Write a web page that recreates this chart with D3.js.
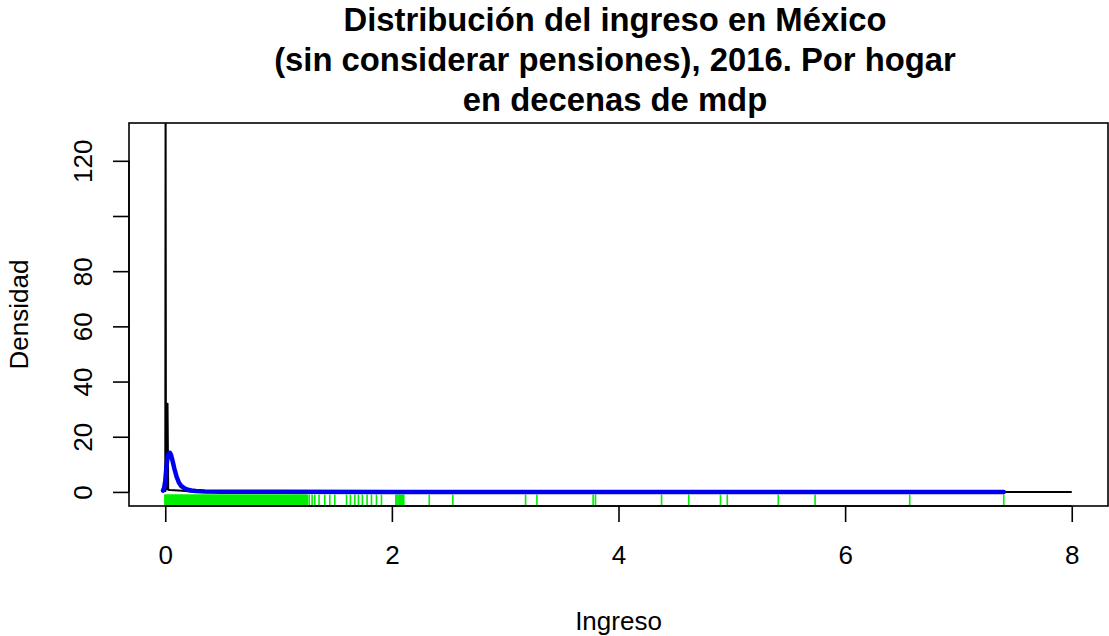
<!DOCTYPE html>
<html>
<head>
<meta charset="utf-8">
<script src="https://cdn.jsdelivr.net/npm/d3@7"></script>
<style>
  html, body { margin: 0; padding: 0; background: #ffffff; }
  svg { display: block; font-family: "Liberation Sans", Arial, sans-serif; }
</style>
</head>
<body>
<svg id="chart" width="1109" height="636"></svg>
<script>
// ---- data ----
const titleLines = ["Distribución del ingreso en México", "(sin considerar pensiones), 2016. Por hogar", "en decenas de mdp"];
const xLabel = "Ingreso";
const yLabel = "Densidad";
const xTicks = [0, 2, 4, 6, 8];
const xTickLabels = ["0", "2", "4", "6", "8"];
const yTicks = [0, 20, 40, 60, 80, 100, 120];
const yTickLabels = ["0", "20", "40", "60", "80", "", "120"];

// black density curve (spikes near zero)
const blackX = [0, 0.003, 0.006, 0.012, 0.02, 0.026, 0.04, 0.08, 0.15, 0.25, 0.4, 8];
const blackY = [0, 150, 1, 1, 32, 0.8, 0.7, 0.6, 0.4, 0.1, 0, 0];

// blue density curve
const blueX = [-0.02, -0.01, 0.0, 0.01, 0.02, 0.03, 0.04, 0.05, 0.06, 0.07, 0.08, 0.10, 0.12, 0.14, 0.17, 0.20, 0.23, 0.27, 0.35, 0.5, 1.0, 2.0, 4.0, 6.0, 7.4];
const blueY = [0.5, 1.5, 4, 9, 12.5, 14, 14.2, 13.5, 12, 10.3, 8.5, 5.5, 3.4, 2.2, 1.3, 0.8, 0.5, 0.3, 0.15, 0.08, 0.03, 0.01, 0.005, 0.002, 0.001];

// rug (observed incomes)
const rugValues = [
  0.00,0.01,0.02,0.03,0.04,0.05,0.06,0.07,0.08,0.09,0.10,0.11,0.12,0.13,0.14,0.15,0.16,0.17,0.18,0.19,
  0.20,0.21,0.22,0.23,0.24,0.25,0.26,0.27,0.28,0.29,0.30,0.31,0.32,0.33,0.34,0.35,0.36,0.37,0.38,0.39,
  0.40,0.41,0.42,0.43,0.44,0.45,0.46,0.47,0.48,0.49,0.50,0.51,0.52,0.53,0.54,0.55,0.56,0.57,0.58,0.59,
  0.60,0.61,0.62,0.63,0.64,0.65,0.66,0.67,0.68,0.69,0.70,0.71,0.72,0.73,0.74,0.75,0.76,0.77,0.78,0.79,
  0.80,0.81,0.82,0.83,0.84,0.85,0.86,0.87,0.88,0.89,0.90,0.91,0.92,0.93,0.94,0.95,0.96,0.97,0.98,0.99,
  1.00,1.01,1.02,1.03,1.04,1.05,1.06,1.07,1.08,1.09,1.10,1.11,1.12,1.13,1.14,1.15,1.16,1.17,1.18,1.19,
  1.20,1.21,1.22,1.23,1.24,1.25,
  1.27,1.296,1.32,1.357,1.408,1.452,1.496,1.60,1.634,1.673,1.705,1.74,1.781,1.82,1.864,1.908,
  2.035,2.045,2.055,2.065,2.075,2.085,2.095,2.105,2.33,2.538,3.18,3.28,3.776,3.797,
  4.38,4.62,4.90,4.96,5.41,5.735,6.57,7.40
];
const denseLimit = 1.255;

// ---- layout ----
const svg = d3.select("#chart");
const plot = { left: 129, right: 1108, top: 123, bottom: 506 };
const x = d3.scaleLinear().domain([-0.32, 8.32]).range([plot.left, plot.right]);
const y = d3.scaleLinear().domain([-5.1, 133.7]).range([plot.bottom, plot.top]);

svg.append("defs").append("clipPath").attr("id", "clip")
  .append("rect").attr("x", plot.left).attr("y", plot.top)
  .attr("width", plot.right - plot.left).attr("height", plot.bottom - plot.top);

const g = svg.append("g").attr("clip-path", "url(#clip)");

// rug
const rugLen = 0.03 * (plot.bottom - plot.top);
g.selectAll("line.rug").data(rugValues).enter().append("line")
  .attr("class", "rug")
  .attr("x1", d => x(d)).attr("x2", d => x(d))
  .attr("y1", plot.bottom).attr("y2", plot.bottom - rugLen)
  .attr("stroke", "#00ee00")
  .attr("stroke-width", d => d <= denseLimit ? 2.4 : 1.6);

const line = d3.line().x(d => x(d[0])).y(d => y(d[1]));

// black curve
g.append("path").datum(d3.zip(blackX, blackY))
  .attr("d", line).attr("fill", "none").attr("stroke", "#000").attr("stroke-width", 2)
  .attr("stroke-linejoin", "round");

// blue curve
g.append("path").datum(d3.zip(blueX, blueY))
  .attr("d", line).attr("fill", "none").attr("stroke", "#0000ee").attr("stroke-width", 4.5)
  .attr("stroke-linejoin", "round").attr("stroke-linecap", "round");

// box
svg.append("rect").attr("x", plot.left).attr("y", plot.top)
  .attr("width", plot.right - plot.left).attr("height", plot.bottom - plot.top)
  .attr("fill", "none").attr("stroke", "#000").attr("stroke-width", 1.6);

// x axis
const xAxis = d3.axisBottom(x).tickValues(xTicks).tickSize(16).tickPadding(24)
  .tickFormat((d, i) => xTickLabels[i]);
const gx = svg.append("g").attr("transform", `translate(0,${plot.bottom})`).call(xAxis);
gx.select(".domain").attr("d", `M${x(xTicks[0])},0H${x(xTicks[xTicks.length - 1])}`).attr("stroke-width", 1.6);
gx.selectAll(".tick line").attr("stroke-width", 1.6);
gx.selectAll("text").attr("font-size", 26).attr("fill", "#000")
  .attr("font-family", "'Liberation Sans', Arial, sans-serif");

// y axis
const yAxis = d3.axisLeft(y).tickValues(yTicks).tickSize(16).tickPadding(0)
  .tickFormat((d, i) => yTickLabels[i]);
const gy = svg.append("g").attr("transform", `translate(${plot.left},0)`).call(yAxis);
gy.select(".domain").attr("d", `M0,${y(yTicks[0])}V${y(yTicks[yTicks.length - 1])}`).attr("stroke-width", 1.6);
gy.selectAll(".tick line").attr("stroke-width", 1.6);
gy.selectAll("text")
  .attr("font-size", 26).attr("fill", "#000")
  .attr("font-family", "'Liberation Sans', Arial, sans-serif")
  .attr("x", null)
  .attr("text-anchor", "middle")
  .attr("transform", "translate(-46,0) rotate(-90)")
  .attr("dy", "0.35em");

// titles
svg.append("g").selectAll("text").data(titleLines).enter().append("text")
  .attr("x", 615).attr("y", (d, i) => 31 + i * 40)
  .attr("text-anchor", "middle").attr("font-weight", "bold").attr("font-size", 32.8)
  .attr("fill", "#000").text(d => d);

svg.append("text").attr("x", x(4)).attr("y", 630)
  .attr("text-anchor", "middle").attr("font-size", 26).attr("fill", "#000").text(xLabel);

svg.append("text").attr("transform", `translate(28,${(plot.top + plot.bottom) / 2}) rotate(-90)`)
  .attr("text-anchor", "middle").attr("font-size", 26).attr("fill", "#000").text(yLabel);
</script>
</body>
</html>
